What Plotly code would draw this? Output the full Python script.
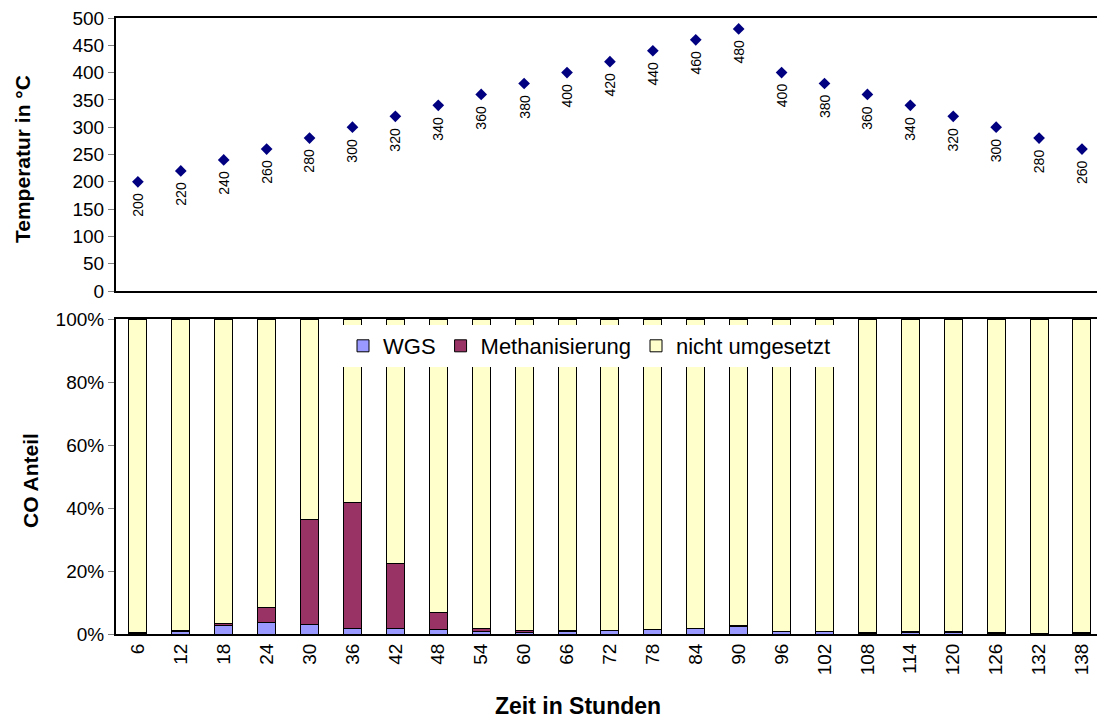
import plotly.graph_objects as go

W, H = 1097, 718

hours = ["6", "12", "18", "24", "30", "36", "42", "48", "54", "60", "66", "72",
         "78", "84", "90", "96", "102", "108", "114", "120", "126", "132", "138"]
temperature = [200, 220, 240, 260, 280, 300, 320, 340, 360, 380, 400, 420,
               440, 460, 480, 400, 380, 360, 340, 320, 300, 280, 260]
wgs = [0.2, 0.8, 2.6, 3.7, 3.1, 1.8, 1.8, 1.3, 0.9, 0.5, 0.9, 1.1,
       1.3, 1.6, 2.5, 0.7, 0.7, 0.1, 0.6, 0.6, 0.1, 0.1, 0.1]
methanisierung = [0.3, 0.3, 0.6, 4.7, 33.4, 39.9, 20.6, 5.5, 0.8, 0.5, 0.1, 0.1,
                  0.2, 0.3, 0.2, 0.2, 0.2, 0.5, 0.2, 0.2, 0.5, 0.1, 0.3]
nicht_umgesetzt = [99.5, 98.9, 96.8, 91.6, 63.5, 58.3, 77.6, 93.2, 98.3, 99.0, 99.0, 98.8,
                   98.5, 98.1, 97.3, 99.1, 99.1, 99.4, 99.2, 99.2, 99.4, 99.8, 99.6]

FONT = "Arial, Liberation Sans, sans-serif"

def px_x(p):
    return p / W

def px_y(p):
    return 1 - p / H

fig = go.Figure()

bar_line = dict(color="black", width=1)
fig.add_trace(go.Bar(x=hours, y=wgs, name="WGS",
                     marker=dict(color="#9999FF", line=bar_line),
                     xaxis="x", yaxis="y"))
fig.add_trace(go.Bar(x=hours, y=methanisierung, name="Methanisierung",
                     marker=dict(color="#993366", line=bar_line),
                     xaxis="x", yaxis="y"))
fig.add_trace(go.Bar(x=hours, y=nicht_umgesetzt, name="nicht umgesetzt",
                     marker=dict(color="#FFFFCC", line=bar_line),
                     xaxis="x", yaxis="y"))

fig.add_trace(go.Scatter(x=hours, y=temperature, mode="markers",
                         marker=dict(symbol="diamond", size=9, color="#000080"),
                         showlegend=False, xaxis="x2", yaxis="y2"))

annotations = []
for i, t in enumerate(temperature):
    annotations.append(dict(x=i, y=t, xref="x2", yref="y2", text=str(t),
                            textangle=-90, showarrow=False, yanchor="top",
                            xanchor="center", yshift=-9,
                            font=dict(family=FONT, size=14, color="black")))

annotations += [
    dict(x=px_x(22), y=px_y(159), xref="paper", yref="paper",
         text="<b>Temperatur in °C</b>", textangle=-90, showarrow=False,
         xanchor="center", yanchor="middle",
         font=dict(family=FONT, size=21, color="black")),
    dict(x=px_x(30), y=px_y(481), xref="paper", yref="paper",
         text="<b>CO Anteil</b>", textangle=-90, showarrow=False,
         xanchor="center", yanchor="middle",
         font=dict(family=FONT, size=21, color="black")),
    dict(x=px_x(578), y=px_y(706), xref="paper", yref="paper",
         text="<b>Zeit in Stunden</b>", showarrow=False,
         xanchor="center", yanchor="middle",
         font=dict(family=FONT, size=23, color="black")),
]

xrange = [-0.51, 22.35]
left = px_x(116)

fig.update_layout(
    width=W, height=H,
    margin=dict(l=0, r=0, t=0, b=0),
    paper_bgcolor="white", plot_bgcolor="white",
    barmode="stack", bargap=0.58,
    font=dict(family=FONT, size=18, color="black"),
    showlegend=True,
    legend=dict(orientation="h", x=px_x(343), y=px_y(325), xanchor="left",
                yanchor="top", bgcolor="white", borderwidth=0,
                traceorder="normal", font=dict(family=FONT, size=22),
                itemwidth=30, tracegroupgap=0),
    xaxis=dict(domain=[left, 1], anchor="y", type="category", range=xrange,
               showline=True, linecolor="black", linewidth=2, mirror=True,
               showgrid=False, ticks="", tickangle=-90, automargin=False,
               tickfont=dict(family=FONT, size=19)),
    yaxis=dict(domain=[px_y(634), px_y(319)], anchor="x", range=[0, 100],
               dtick=20, ticksuffix="%", showline=True, linecolor="black",
               linewidth=2, showgrid=False, ticks="outside", ticklen=6,
               tickcolor="#808080", zeroline=False, automargin=False,
               tickfont=dict(family=FONT, size=19)),
    xaxis2=dict(domain=[left, 1], anchor="y2", type="category", range=xrange,
                showline=True, linecolor="black", linewidth=2, mirror=True,
                showgrid=False, ticks="", showticklabels=False, automargin=False),
    yaxis2=dict(domain=[px_y(291), px_y(18)], anchor="x2", range=[0, 500],
                dtick=50, showline=True, linecolor="black", linewidth=2,
                showgrid=False, ticks="outside", ticklen=6, tickcolor="#808080",
                zeroline=False, automargin=False,
                tickfont=dict(family=FONT, size=19)),
    annotations=annotations,
)

fig.write_html("out.html")
